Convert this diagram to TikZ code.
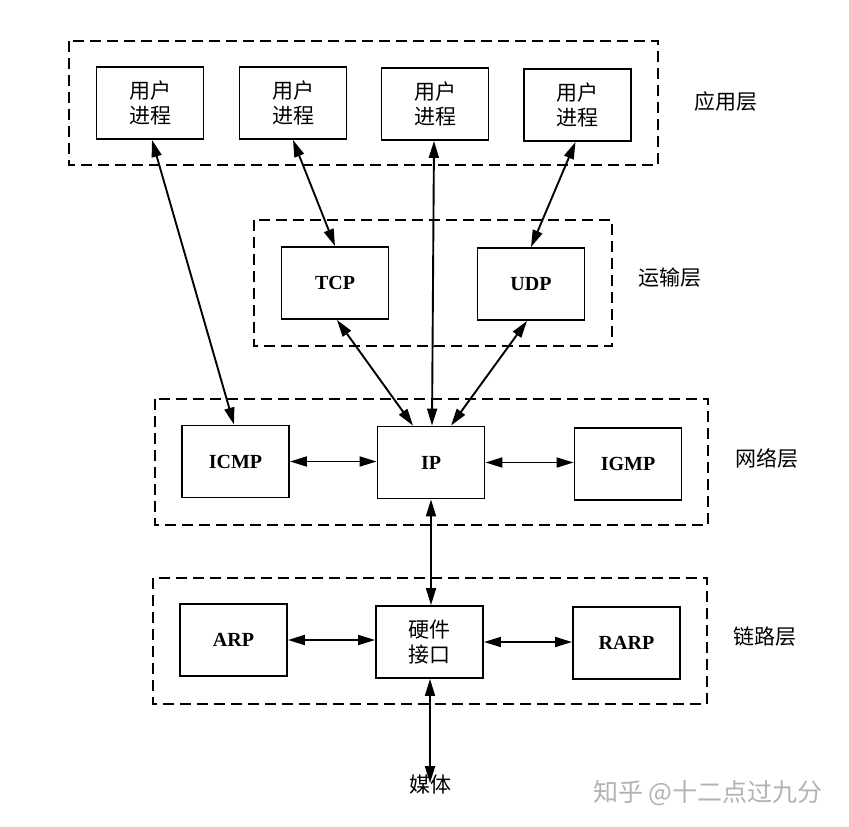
\documentclass[tikz,border=0pt]{standalone}
\usepackage{fontspec}
\setmainfont{Liberation Serif}
\newfontfamily\cjk{Noto Sans CJK SC}
\usetikzlibrary{arrows.meta}

\begin{document}
\begin{tikzpicture}[x=1pt,y=-1pt,
  proto/.style={draw, line width=1.9pt, minimum width=107pt, minimum height=72pt,
    inner sep=0pt, font=\fontsize{20}{20}\selectfont\bfseries},
  proc/.style={proto, font=\cjk\fontsize{21}{25}\selectfont, align=center},
  layer/.style={draw, line width=1.8pt, dash pattern=on 11pt off 6pt},
  layername/.style={font=\cjk\fontsize{21}{21}\selectfont, inner sep=0pt},
  link/.style={line width=1.9pt,
    {Triangle[length=17pt,width=10pt]}-{Triangle[length=17pt,width=10pt]}}
]
\useasboundingbox (0,0) rectangle (849,827);

% layer frames
\draw[layer] (69,41) rectangle (658,165);
\draw[layer] (254,220) rectangle (612,346);
\draw[layer] (155,399) rectangle (708,525);
\draw[layer] (153,578) rectangle (707,704);

% layer names
\node[layername] (lapp) at (726,102) {应用层};
\node[layername] (ltrans) at (670,278) {运输层};
\node[layername] (lnet) at (767,458) {网络层};
\node[layername] (llink) at (765,637) {链路层};

% application layer
\node[proc] (u1) at (150,103) {用户\\进程};
\node[proc] (u2) at (293,103) {用户\\进程};
\node[proc] (u3) at (435,104) {用户\\进程};
\node[proc] (u4) at (577.5,105) {用户\\进程};

% transport layer
\node[proto] (tcp) at (335,283) {TCP};
\node[proto] (udp) at (531,284) {UDP};

% network layer
\node[proto] (icmp) at (235.5,461.5) {ICMP};
\node[proto] (ip) at (431,462.5) {IP};
\node[proto] (igmp) at (628,464) {IGMP};

% link layer
\node[proto] (arp) at (233.5,640) {ARP};
\node[proc] (hw) at (429.5,642) {硬件\\接口};
\node[proto] (rarp) at (626.5,643) {RARP};

% medium
\node[font=\cjk\fontsize{21}{21}\selectfont, inner sep=0pt] (media) at (430,785) {媒体};

% watermark
\node[font=\cjk\fontsize{25}{25}\selectfont, text=black!30, inner sep=0pt, anchor=west] (wm) at (593,793) {知乎 @十二点过九分};

% connections between the layers
\draw[link] ([xshift=2pt]u1.south) -- ([xshift=-1.5pt]icmp.north);
\draw[link] (u2.south) -- (tcp.north);
\draw[link] ([xshift=-1pt]u3.south) -- ([xshift=1pt]ip.north);
\draw[link] ([xshift=-2pt]u4.south) -- (udp.north);
\draw[link] ([xshift=2pt]tcp.south) -- ([xshift=-18pt]ip.north);
\draw[link] ([xshift=-4pt]udp.south) -- ([xshift=20pt]ip.north);

\draw[link] (icmp.east) -- (icmp.east -| ip.west);
\draw[link] (ip.east) -- (ip.east -| igmp.west);
\draw[link] (ip.south) -- (ip.south |- hw.north);
\draw[link] (arp.east) -- (arp.east -| hw.west);
\draw[link] (hw.east) -- (hw.east -| rarp.west);
\draw[link] ([xshift=0.5pt]hw.south) -- ([yshift=-8pt]media.north);
\end{tikzpicture}
\end{document}
